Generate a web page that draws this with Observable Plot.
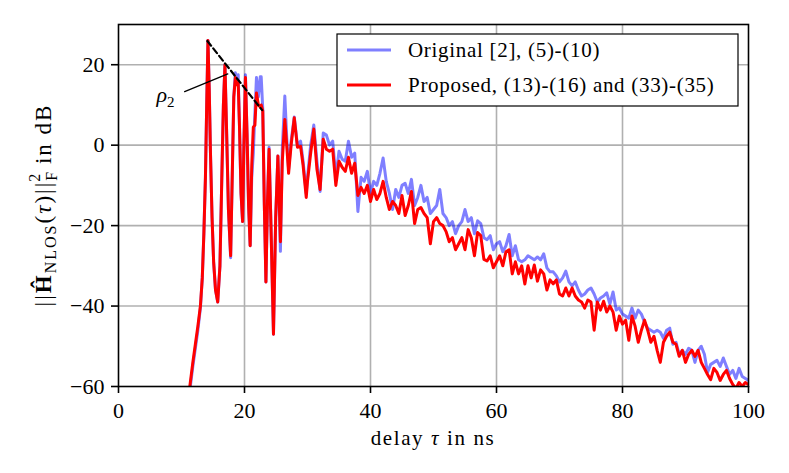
<!DOCTYPE html>
<html><head><meta charset="utf-8">
<script src="https://cdn.jsdelivr.net/npm/d3@7"></script>
<script src="https://cdn.jsdelivr.net/npm/@observablehq/plot@0.6"></script>
<style>body{margin:0;background:#fff;} svg{display:block;} svg text{font-family:'Liberation Serif','Times New Roman',serif;}</style>
</head><body><div id="chart"></div>
<script>
// delay axis (ns): detailed early part, then 0.5 ns sampling
const tauEarly = [11.0,11.4,11.8,12.2,12.6,13.0,13.3,13.55,13.8,14.0,14.2,14.4,14.6,14.85,15.1,15.4,15.75,16.1,16.4,16.65,16.9,17.15,17.45,17.8,18.05,18.3,18.55,18.8,19.0,19.2,19.45,19.7,19.9,20.15,20.4,20.65,20.9,21.15,21.4,21.65,21.9,22.2,22.5,22.65,22.9,23.15,23.4,23.65,23.9,24.2,24.6,24.95,25.3,25.7,26.0,26.4,26.7,27.0,27.4,27.9,28.4,28.9,29.3,29.8,30.0];
const redEarly = [-64,-59,-54,-49.5,-45,-40,-33,-22,-8,10,26,14,-2,-18,-29,-36,-39,-30,-8,10,20,4,-16,-27.5,-8,12,16.8,15,15.5,5,-12,-19,0,16.8,3,-15,-25,-5,4.5,5,13,10,9.5,10,8.5,-15,-34,-14,-1,-20,-47,-18,-2.7,-24,-4,6.4,0,-7,0,6.8,-0.5,-0.3,-5,-13,-9];
const blueEarly = [-64,-60,-55,-50.5,-46,-40.5,-33,-22,-8,10,26,14,-2,-18,-29,-36,-39,-30,-8,10,20,4,-16,-28,-8,12,18,16.5,17.5,5,-12,-19,0,17.5,3,-15,-25,-8,-2,8,16.8,12,17,17,9,-15,-34,-14,-0.5,-20,-47,-18,-2.7,-26.4,-1,12.2,2,-6,1,7,0,1,-4,-12,-8];
const tauLate = [30.5,31,31.5,32,32.5,33,33.5,34,34.5,35,35.5,36,36.5,37,37.5,38,38.5,39,39.5,40,40.5,41,41.5,42,42.5,43,43.5,44,44.5,45,45.5,46,46.5,47,47.5,48,48.5,49,49.5,50,50.5,51,51.5,52,52.5,53,53.5,54,54.5,55,55.5,56,56.5,57,57.5,58,58.5,59,59.5,60,60.5,61,61.5,62,62.5,63,63.5,64,64.5,65,65.5,66,66.5,67,67.5,68,68.5,69,69.5,70,70.5,71,71.5,72,72.5,73,73.5,74,74.5,75,75.5,76,76.5,77,77.5,78,78.5,79,79.5,80,80.5,81,81.5,82,82.5,83,83.5,84,84.5,85,85.5,86,86.5,87,87.5,88,88.5,89,89.5,90,90.5,91,91.5,92,92.5,93,93.5,94,94.5,95,95.5,96,96.5,97,97.5,98,98.5,99,99.5,100];
const redLate = [-2,4,-6,-11,1.5,-1,-1.5,-1,-10,-4,-5.5,-6.5,-3,-7,-4.5,-12.5,-10.5,-12,-10,-14,-11,-13.5,-12,-9,-13,-16,-14,-15,-17,-12.5,-17.5,-15,-11.5,-19.5,-16,-15.5,-17,-18,-24.5,-19,-18,-19.5,-20,-21.5,-24,-23,-26,-24.5,-23,-26,-21,-23,-27.5,
 -21.7,-22.5,-28.4,-28.8,-27.5,-30.5,-29,-27.5,-30,-26.5,-26,-32,-29,-32,-30,-34.5,-30,-33,-29.8,-33.8,-31,-32,-36,-33.5,-34.5,-33.5,-37,-37.5,-35.5,-37.5,-35.5,-37.5,-38.5,-39,-40.5,-38.5,-39,-46,-39,-41,-38.8,-41.5,-40,-41.5,-46,-42.5,-44.5,-43.5,-48.5,-42.5,-45,-49,-46,-43.5,-46,-49,-47.5,-51,-54,-49,-47.5,-46.5,-49,-49.5,-52.5,-51,-54,-52,-51,-52.5,-51,-54,-55.5,-57,-58.3,-55.5,-56.5,-58.5,-57,-56,-58,-59.5,-60.5,-59,-60,-59,-59.5];
const blueLate = [0,5,-4,-11.5,3,2.5,0,1,-8,-1.5,-3.5,-4,1,-3,-2,-16.5,-8,-9,-6.5,-12,-9,-10,-7,-3.2,-9,-12,-16,-11,-13,-10,-9.5,-12,-8.5,-15,-13,-10,-14,-13,-17,-16,-15,-11,-17,-18,-20,-19,-22,-20,-19,-16,-19,-18,-22,
 -18.8,-19.5,-23,-23.5,-22.5,-26,-24.5,-24,-26.5,-25,-22.2,-27.5,-25,-28.5,-29,-28.5,-27.5,-28,-28.5,-27.8,-28.5,-27,-30.5,-31.5,-31.5,-32.5,-34,-33,-31.3,-34,-35,-34,-36,-37.5,-37,-36,-35.5,-37,-39,-38,-37.5,-36.7,-39.5,-36.5,-41,-40.5,-42,-42.5,-43,-40.5,-43,-41,-42,-44,-45.5,-46,-46.5,-46,-46.5,-48,-46,-45.5,-49.5,-49,-52,-51,-52,-50.5,-51,-54,-51,-50,-52,-56.5,-54.5,-54,-53.5,-55,-52.9,-55,-57,-56,-58,-55.5,-57.5,-58,-58.5];

const xTicks = [0,20,40,60,80,100];
const yTicks = [-60,-40,-20,0,20];
const legendLabels = ["Original [2], (5)-(10)", "Proposed, (13)-(16) and (33)-(35)"];
// rho_2 annotation (data coordinates)
const rhoTau = [14.1, 22.8], rhoDb = [25.9, 8.7];
const ptrTau = [10.5, 17.35], ptrDb = [13.3, 17.7];
const rhoLabelTau = 6.1, rhoLabelDb = 10.5;

const tau = tauEarly.concat(tauLate);
const red = redEarly.concat(redLate);
const blue = blueEarly.concat(blueLate);
const blueRows = tau.map((t, i) => ({tau: t, db: blue[i]}));
const redRows = tau.map((t, i) => ({tau: t, db: red[i]}));
const rhoRows = rhoTau.map((t, i) => ({tau: t, db: rhoDb[i]}));
const ptrRows = ptrTau.map((t, i) => ({tau: t, db: ptrDb[i]}));

const FONT = "'Liberation Serif', 'Times New Roman', serif";
const chart = Plot.plot({
  width: 789, height: 473,
  marginLeft: 118, marginRight: 41, marginTop: 24, marginBottom: 87,
  style: {fontFamily: FONT, fontSize: "21px", background: "white", color: "black"},
  x: {domain: [0, 100]},
  y: {domain: [-60, 30]},
  marks: [
    Plot.gridX({ticks: [20,40,60,80], stroke: "#b0b0b0", strokeOpacity: 1, strokeWidth: 1.6}),
    Plot.gridY({ticks: [-40,-20,0,20], stroke: "#b0b0b0", strokeOpacity: 1, strokeWidth: 1.6}),
    Plot.line(blueRows, {x: "tau", y: "db", stroke: "#0000ff", strokeOpacity: 0.5, strokeWidth: 3, clip: true}),
    Plot.line(redRows, {x: "tau", y: "db", stroke: "#ff0000", strokeWidth: 3, clip: true}),
    Plot.line(rhoRows, {x: "tau", y: "db", stroke: "black", strokeWidth: 2.2, strokeDasharray: "6,3.5"}),
    Plot.line(ptrRows, {x: "tau", y: "db", stroke: "black", strokeWidth: 1.3}),
    Plot.frame({stroke: "black", strokeWidth: 1.6}),
    Plot.axisX({ticks: xTicks, tickSize: 7, tickPadding: 9, strokeWidth: 1.6, fontSize: 22, fontFamily: FONT, label: null, tickFormat: d => String(d)}),
    Plot.axisY({ticks: yTicks, tickSize: 7, tickPadding: 7, strokeWidth: 1.6, fontSize: 22, fontFamily: FONT, label: null, tickFormat: d => d < 0 ? "\u2212" + Math.abs(d) : String(d)})
  ]
});
document.getElementById("chart").appendChild(chart);

const svg = d3.select(chart);
const sx = chart.scale("x"), sy = chart.scale("y");

// rho_2 label
const rt = svg.append("text").attr("x", sx.apply(rhoLabelTau)).attr("y", sy.apply(rhoLabelDb))
  .attr("text-anchor", "start").attr("font-size", 22).attr("fill", "black");
rt.append("tspan").attr("font-style", "italic").text("ρ");
rt.append("tspan").attr("font-size", 15).attr("dy", 5).text("2");

// x label
const xl = svg.append("text").attr("x", 433).attr("y", 445).attr("text-anchor", "middle")
  .attr("font-size", 21).attr("letter-spacing", "1.6px").attr("fill", "black");
xl.append("tspan").text("delay ");
xl.append("tspan").attr("font-style", "italic").text("τ");
xl.append("tspan").text(" in ns");

// y label
const yl = svg.append("text").attr("transform", "translate(51,205) rotate(-90)").attr("text-anchor", "middle")
  .attr("font-size", 23).attr("letter-spacing", "2px").attr("fill", "black");
yl.append("tspan").text("||");
yl.append("tspan").attr("font-weight", "bold").text("Ĥ");
yl.append("tspan").attr("font-size", 16).attr("dy", 5).text("NLOS");
yl.append("tspan").attr("dy", -5).text("(");
yl.append("tspan").attr("font-style", "italic").text("τ");
yl.append("tspan").text(")||");
yl.append("tspan").attr("font-size", 16).attr("dy", 6).text("F");
yl.append("tspan").attr("font-size", 16).attr("dx", -12).attr("dy", -17).text("2");
yl.append("tspan").attr("dy", 11).text(" in dB");

// legend
const lg = svg.append("g");
lg.append("rect").attr("x", 337).attr("y", 34).attr("width", 401).attr("height", 72)
  .attr("fill", "white").attr("stroke", "black").attr("stroke-width", 1.2);
const lcol = [["#0000ff", 0.5], ["#ff0000", 1]];
[50, 85].forEach((yy, i) => {
  lg.append("line").attr("x1", 347).attr("x2", 391).attr("y1", yy).attr("y2", yy)
    .attr("stroke", lcol[i][0]).attr("stroke-opacity", lcol[i][1]).attr("stroke-width", 3);
  lg.append("text").attr("x", 408).attr("y", yy + 7).attr("text-anchor", "start").attr("font-size", 21)
    .attr("letter-spacing", "0.7px").attr("fill", "black").text(legendLabels[i]);
});
</script></body></html>
